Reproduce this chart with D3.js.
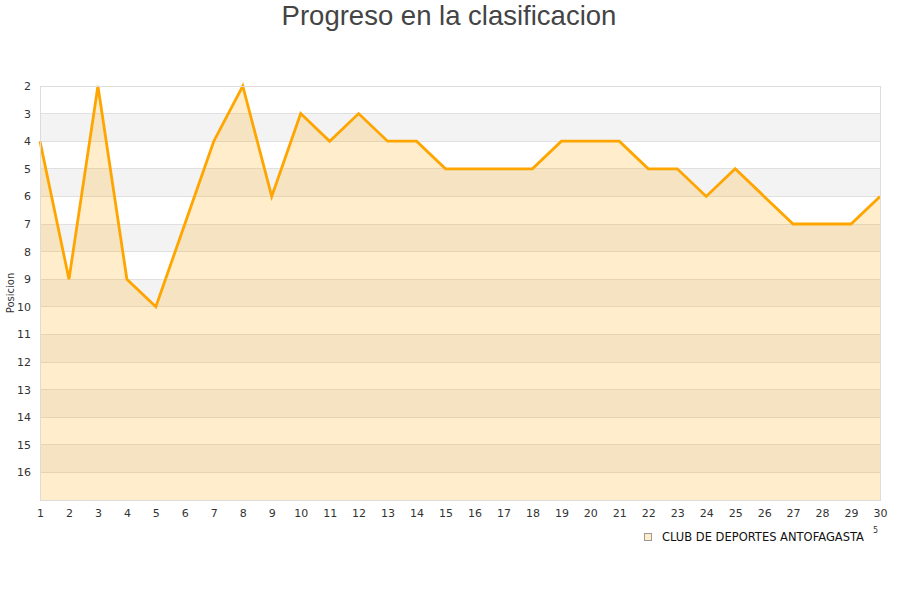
<!DOCTYPE html>
<html><head><meta charset="utf-8">
<script src="https://cdn.jsdelivr.net/npm/d3@7"></script>
<style>body{margin:0;background:#fff}svg{display:block}</style>
</head><body>
<svg id="c" width="900" height="600"></svg>
<script>
const jornadas = d3.range(1, 31);
const posiciones = [4,9,2,9,10,7,4,2,6,3,4,3,4,4,5,5,5,5,4,4,4,5,5,6,5,6,7,7,7,6];
const yTicks = d3.range(2, 17);
const seriesName = "CLUB DE DEPORTES ANTOFAGASTA";
const title = "Progreso en la clasificacion";
const yLabel = "Posicion";

const svg = d3.select("#c");
const m = {l:40, r:20, t:86, b:100};
const W = 900, H = 600;
const x = d3.scaleLinear().domain([1,30]).range([m.l, W-m.r]);
const y = d3.scaleLinear().domain([2,17]).range([m.t, H-m.b]);

// bands
const bands = d3.range(2, 17);
svg.append("g").selectAll("rect").data(bands).join("rect")
  .attr("x", x(1)).attr("width", x(30)-x(1))
  .attr("y", d => y(d)).attr("height", d => y(d+1)-y(d))
  .attr("fill", d => d % 2 === 1 ? "#f3f3f3" : "#ffffff");

// grid lines
svg.append("g").selectAll("line").data(yTicks).join("line")
  .attr("x1", x(1)).attr("x2", x(30))
  .attr("y1", d => y(d)).attr("y2", d => y(d))
  .attr("stroke", "#e0e0e0").attr("stroke-width", 1).attr("shape-rendering","crispEdges");

// area
const data = jornadas.map((j,i) => ({j, p: posiciones[i]}));
svg.append("path").datum(data)
  .attr("d", d3.area().x(d => x(d.j)).y0(y(17)).y1(d => y(d.p)))
  .attr("fill", "rgba(255,165,0,0.2)");
svg.append("path").datum(data)
  .attr("d", d3.line().x(d => x(d.j)).y(d => y(d.p)))
  .attr("fill", "none").attr("stroke", "#ffa500").attr("stroke-width", 2.8)
  .attr("stroke-linejoin", "miter");

// frame
svg.append("rect").attr("x", x(1)+0.5).attr("y", y(2)+0.5)
  .attr("width", x(30)-x(1)).attr("height", y(17)-y(2))
  .attr("fill","none").attr("stroke","#dcdcdc").attr("shape-rendering","crispEdges");

// axes
const font = "DejaVu Sans, sans-serif";
const yAxis = d3.axisLeft(y).tickValues(yTicks).tickSize(0).tickPadding(10);
const gy = svg.append("g").attr("transform", `translate(${x(1)},0)`).call(yAxis);
gy.select(".domain").remove();
gy.selectAll("text").attr("font-family", font).attr("font-size", 11).attr("fill", "#333").attr("text-anchor","end").attr("dx","1");

const xAxis = d3.axisBottom(x).tickValues(jornadas).tickFormat(d3.format("d")).tickSize(0).tickPadding(9);
const gx = svg.append("g").attr("transform", `translate(0,${y(17)})`).call(xAxis);
gx.select(".domain").remove();
gx.selectAll("text").attr("font-family", font).attr("font-size", 11).attr("fill", "#333");

// title
svg.append("text").attr("x", 449).attr("y", 25).attr("text-anchor","middle")
  .attr("font-family","Liberation Sans, Arial, sans-serif").attr("font-size", 27.5)
  .attr("fill","#444").text(title);

// y label
svg.append("text").attr("transform","translate(14,293) rotate(-90)").attr("text-anchor","middle")
  .attr("font-family", font).attr("font-size", 10).attr("fill","#333").text(yLabel);

// legend
svg.append("rect").attr("x", 644.5).attr("y", 533.5).attr("width", 7).attr("height", 7)
  .attr("fill","#ffedcc").attr("stroke","#999").attr("stroke-width",1);
svg.append("text").attr("x", 662).attr("y", 541)
  .attr("font-family", font).attr("font-size", 11.5).attr("fill","#111").text(seriesName);
svg.append("text").attr("x", 873).attr("y", 533)
  .attr("font-family", font).attr("font-size", 8).attr("fill","#333").text("5");
</script>
</body></html>
